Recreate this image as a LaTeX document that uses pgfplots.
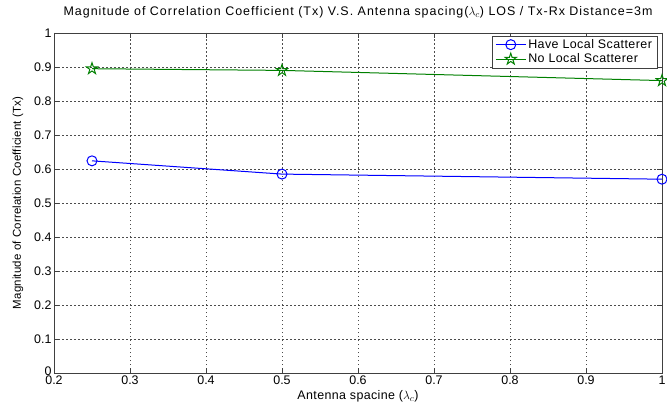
\documentclass[border=0pt]{standalone}
\usepackage{pgfplots}
\pgfplotsset{compat=1.18}
\usepackage{fontspec}
\setmainfont{Liberation Sans}
\newfontfamily\titlefont[LetterSpace=8]{Liberation Sans}
\newfontfamily\labelfont[LetterSpace=3]{Liberation Sans}
\newfontfamily\ylfont[LetterSpace=1.5]{Liberation Sans}
\newfontfamily\legfont[LetterSpace=3.5]{Liberation Sans}
\definecolor{mblue}{RGB}{0,0,255}
\definecolor{mgreen}{RGB}{0,128,0}
\pgfdeclareplotmark{pentagram}{%
  \pgfpathmoveto{\pgfpointpolar{90}{\pgfplotmarksize}}%
  \pgfpathlineto{\pgfpointpolar{126}{0.382\pgfplotmarksize}}%
  \pgfpathlineto{\pgfpointpolar{162}{\pgfplotmarksize}}%
  \pgfpathlineto{\pgfpointpolar{198}{0.382\pgfplotmarksize}}%
  \pgfpathlineto{\pgfpointpolar{234}{\pgfplotmarksize}}%
  \pgfpathlineto{\pgfpointpolar{270}{0.382\pgfplotmarksize}}%
  \pgfpathlineto{\pgfpointpolar{306}{\pgfplotmarksize}}%
  \pgfpathlineto{\pgfpointpolar{342}{0.382\pgfplotmarksize}}%
  \pgfpathlineto{\pgfpointpolar{18}{\pgfplotmarksize}}%
  \pgfpathlineto{\pgfpointpolar{54}{0.382\pgfplotmarksize}}%
  \pgfpathclose
  \pgfusepathqstroke
}
\begin{document}
\begin{tikzpicture}
\path[use as bounding box] (-54bp,-39bp) rectangle (613bp,373bp);
\begin{axis}[
  at={(0,0)}, anchor=south west,
  scale only axis,
  width=608bp, height=340bp,
  xmin=0.2, xmax=1, ymin=0, ymax=1,
  xtick={0.2,0.3,...,1.0},
  ytick={0,0.1,...,1.0},
  xticklabels={0.2,0.3,0.4,0.5,0.6,0.7,0.8,0.9,1},
  yticklabels={\raisebox{3bp}{0},0.1,0.2,0.3,0.4,0.5,0.6,0.7,0.8,0.9,1},
  tick align=inside,
  major tick length=5bp,
  tick style={black!75, line width=0.6bp},
  axis line style={black!75, line width=0.8bp},
  grid=major,
  major grid style={dash pattern=on 1.5bp off 2.5bp, black!70, line width=0.6bp},
  ticklabel style={font=\fontsize{12.5}{14}\selectfont},
  xticklabel style={yshift=0.5pt},
  yticklabel style={xshift=1pt},
  title={Magnitude of Correlation Coefficient (Tx) V.S. Antenna spacing($\lambda_c$) LOS / Tx-Rx Distance=3m},
  title style={font=\titlefont\fontsize{12.5}{14}\selectfont, at={(0.5,1)}, anchor=south, yshift=5.5bp},
  xlabel={Antenna spacine ($\lambda_c$)},
  xlabel style={font=\labelfont\fontsize{12.5}{14}\selectfont, yshift=1pt},
  ylabel={Magnitude of Correlation Coefficient (Tx)},
  ylabel style={font=\ylfont\fontsize{11.5}{13}\selectfont, yshift=4bp},
  legend style={at={(0.992,0.992)}, anchor=north east, draw=black!75, font=\legfont\fontsize{12.5}{13}\selectfont, row sep=0pt, inner sep=1.5pt, inner xsep=3pt},
  legend cell align=left,
  legend image code/.code={\draw[mark repeat=2,mark phase=2] plot coordinates {(0bp,0bp) (15bp,0bp) (30bp,0bp)};},
]
\addplot[mblue, line width=1bp, mark=o, mark size=5bp, mark options={solid, line width=1bp}] coordinates {
  (0.25,0.624) (0.5,0.585) (1.0,0.570)
};
\addlegendentry{Have Local Scatterer\hspace{9bp}}
\addplot[mgreen, line width=1bp, mark=pentagram, mark size=6bp, mark options={solid, line width=1bp}] coordinates {
  (0.25,0.895) (0.5,0.890) (1.0,0.860)
};
\addlegendentry{No Local Scatterer}
\end{axis}
\end{tikzpicture}
\end{document}
